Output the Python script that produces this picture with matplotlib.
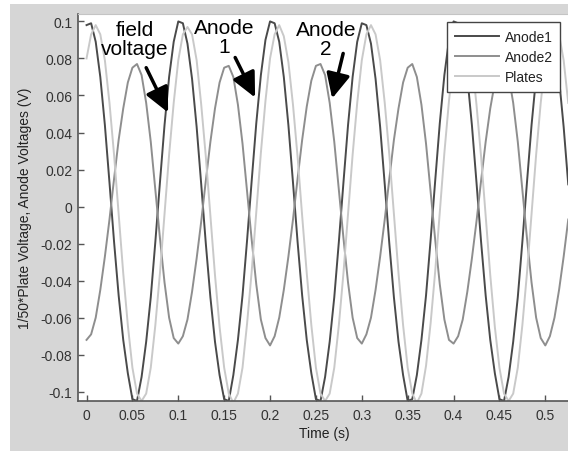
#!/usr/bin/env python

import numpy as np
import matplotlib
matplotlib.use('Agg')
from matplotlib import pyplot as plt
from matplotlib.patches import Rectangle

# sampled every 5 ms
time_s = np.round(np.arange(106) * 0.005, 3)

anode1 = [
	0.098, 0.099, 0.089, 0.070, 0.044, 0.013, -0.019, -0.048, -0.072, -0.090,
	-0.104, -0.105, -0.092, -0.073, -0.049, -0.019, 0.013, 0.044, 0.070, 0.089,
	0.100, 0.099, 0.088, 0.069, 0.043, 0.012, -0.020, -0.049, -0.073, -0.091,
	-0.104, -0.105, -0.091, -0.072, -0.048, -0.018, 0.014, 0.045, 0.071, 0.090,
	0.100, 0.099, 0.089, 0.070, 0.044, 0.013, -0.019, -0.048, -0.072, -0.090,
	-0.104, -0.105, -0.092, -0.073, -0.049, -0.019, 0.013, 0.044, 0.070, 0.089,
	0.099, 0.098, 0.088, 0.069, 0.043, 0.012, -0.020, -0.049, -0.073, -0.091,
	-0.105, -0.104, -0.091, -0.072, -0.048, -0.018, 0.014, 0.045, 0.071, 0.090,
	0.100, 0.099, 0.089, 0.070, 0.044, 0.013, -0.019, -0.048, -0.072, -0.090,
	-0.104, -0.105, -0.092, -0.073, -0.049, -0.019, 0.013, 0.044, 0.070, 0.089,
	0.099, 0.099, 0.088, 0.069, 0.043, 0.012]

anode2 = [
	-0.072, -0.069, -0.060, -0.045, -0.027, -0.007, 0.015, 0.036, 0.053, 0.067,
	0.075, 0.077, 0.071, 0.056, 0.035, 0.009, -0.017, -0.041, -0.060, -0.071,
	-0.074, -0.070, -0.061, -0.046, -0.028, -0.008, 0.014, 0.035, 0.053, 0.067,
	0.075, 0.076, 0.070, 0.055, 0.034, 0.008, -0.018, -0.042, -0.061, -0.071,
	-0.075, -0.070, -0.060, -0.045, -0.027, -0.007, 0.015, 0.036, 0.054, 0.068,
	0.076, 0.077, 0.071, 0.056, 0.035, 0.009, -0.017, -0.041, -0.060, -0.071,
	-0.074, -0.069, -0.060, -0.045, -0.027, -0.007, 0.015, 0.036, 0.053, 0.067,
	0.075, 0.077, 0.070, 0.055, 0.034, 0.008, -0.018, -0.042, -0.061, -0.072,
	-0.074, -0.070, -0.061, -0.046, -0.028, -0.008, 0.014, 0.035, 0.053, 0.067,
	0.075, 0.076, 0.071, 0.056, 0.035, 0.009, -0.017, -0.041, -0.060, -0.071,
	-0.075, -0.070, -0.060, -0.045, -0.027, -0.007]

plates = [
	0.080, 0.093, 0.098, 0.093, 0.079, 0.056, 0.028, -0.004, -0.036, -0.064,
	-0.087, -0.101, -0.105, -0.101, -0.087, -0.064, -0.036, -0.004, 0.028, 0.056,
	0.079, 0.093, 0.097, 0.093, 0.079, 0.055, 0.027, -0.005, -0.037, -0.065,
	-0.087, -0.101, -0.106, -0.101, -0.087, -0.063, -0.035, -0.003, 0.029, 0.057,
	0.080, 0.093, 0.098, 0.092, 0.078, 0.055, 0.027, -0.005, -0.036, -0.064,
	-0.087, -0.101, -0.105, -0.101, -0.087, -0.064, -0.036, -0.004, 0.028, 0.056,
	0.079, 0.093, 0.098, 0.093, 0.079, 0.056, 0.028, -0.004, -0.036, -0.064,
	-0.087, -0.101, -0.106, -0.101, -0.086, -0.063, -0.035, -0.003, 0.029, 0.057,
	0.080, 0.093, 0.097, 0.093, 0.079, 0.055, 0.027, -0.005, -0.037, -0.065,
	-0.087, -0.101, -0.105, -0.101, -0.087, -0.064, -0.036, -0.004, 0.028, 0.056,
	0.079, 0.093, 0.098, 0.093, 0.079, 0.056]

series_names = ["Anode1", "Anode2", "Plates"]
x_ticks = [0, 0.05, 0.1, 0.15, 0.2, 0.25, 0.3, 0.35, 0.4, 0.45, 0.5]
y_ticks = [-0.1, -0.08, -0.06, -0.04, -0.02, 0, 0.02, 0.04, 0.06, 0.08, 0.1]


def main():
	W, H = 568.0, 452.0
	plt.rcParams['font.family'] = ['Liberation Sans', 'DejaVu Sans']

	fig = plt.figure(figsize=(W / 100, H / 100), dpi=100)
	fig.patch.set_facecolor('white')
	# gray window panel (white strip on the left and top)
	fig.add_artist(Rectangle((10 / W, 0), 1, 1 - 5 / H, transform=fig.transFigure,
							 facecolor='#d6d6d6', edgecolor='none', zorder=-5))

	ax = fig.add_axes([78 / W, 50 / H, (571 - 78) / W, (402 - 15) / H])
	ax.set_facecolor('white')

	colors = ['#4a4a4a', '#8e8e8e', '#c9c9c9']
	for vals, name, c in zip([anode1, anode2, plates], series_names, colors):
		ax.plot(time_s, vals, color=c, lw=1.4, label=name)

	ax.set_xlim(-0.0093, 0.528)
	ax.set_ylim(-0.105, 0.104)
	ax.set_xticks(x_ticks)
	ax.set_xticklabels(["{:g}".format(v) for v in x_ticks])
	ax.set_yticks(y_ticks)
	ax.set_yticklabels(["{:g}".format(v) for v in y_ticks])

	for side in ('left', 'bottom'):
		ax.spines[side].set_color('#555555')
		ax.spines[side].set_linewidth(1.2)
	ax.spines['top'].set_color('#c4c4c4')
	ax.spines['right'].set_visible(False)

	ax.tick_params(direction='in', length=4, width=1, color='#555555',
				   labelsize=10, labelcolor='#333333')
	ax.tick_params(axis='y', pad=4)
	ax.tick_params(axis='x', pad=5)

	ax.set_xlabel("Time (s)", fontsize=10, color='#222222', labelpad=3)
	ax.set_ylabel("1/50*Plate Voltage, Anode Voltages (V)", fontsize=10,
				  color='#222222', labelpad=6)

	leg = ax.legend(loc='upper left', bbox_to_anchor=(447 / W, 1 - 23 / H),
					bbox_transform=fig.transFigure, borderaxespad=0, fontsize=10,
					handlelength=3.2, handletextpad=0.4, labelspacing=0.45,
					borderpad=0.55, fancybox=False, framealpha=1, edgecolor='#444444')
	leg.get_frame().set_linewidth(1.0)
	for txt in leg.get_texts():
		txt.set_color('#222222')

	# hand-written annotations with arrows
	notes = [
		("field\nvoltage", (0.053, 0.0905), (0.065, 0.075), (0.0889, 0.0508)),
		("Anode\n1", (0.150, 0.0915), (0.162, 0.0805), (0.1837, 0.0589)),
		("Anode\n2", (0.261, 0.0905), (0.2797, 0.0827), (0.2677, 0.0584)),
	]
	for label, pos, tail, tip in notes:
		ax.text(pos[0], pos[1], label, ha='center', va='center', fontsize=15,
				linespacing=1.0, color='k')
		ax.annotate('', xy=tip, xytext=tail,
					arrowprops=dict(arrowstyle='-|>,head_length=0.75,head_width=0.36',
									color='k', lw=2.5, mutation_scale=20,
									shrinkA=0, shrinkB=0))

	plt.savefig('out.png', dpi=100)
	return 0


if __name__ == "__main__":
	exit(main())
